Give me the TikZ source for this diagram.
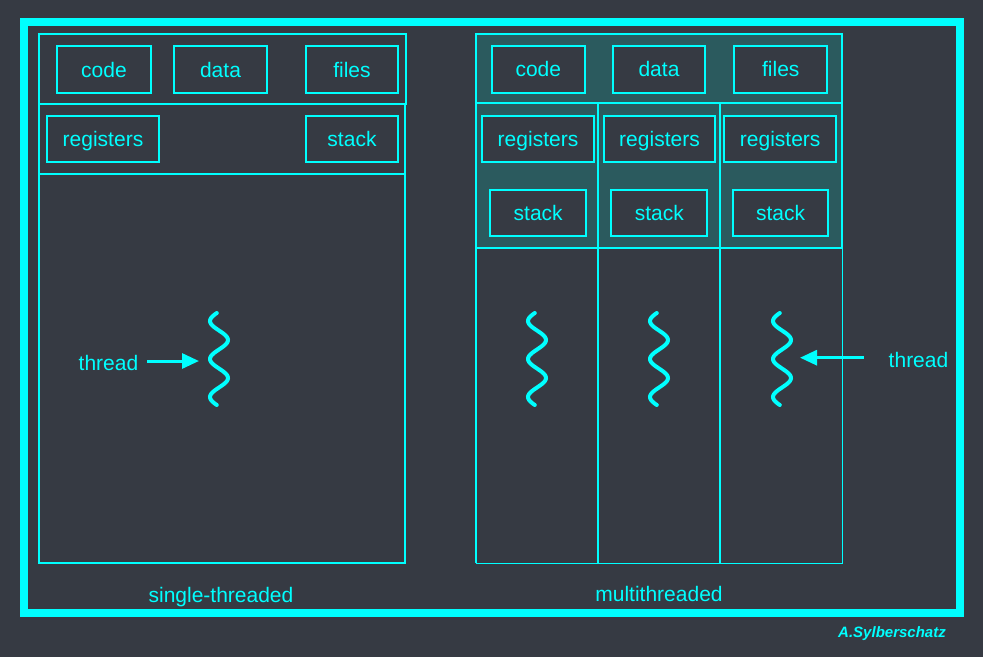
\documentclass[tikz,border=0pt]{standalone}
\usepackage{fontspec}
\setmainfont{Liberation Sans}
\usetikzlibrary{arrows.meta}
\definecolor{bgc}{HTML}{363A43}
\definecolor{cy}{HTML}{00FFFF}
\definecolor{tealfill}{HTML}{2B5A5E}
\begin{document}
\begin{tikzpicture}[x=1pt,y=-1pt,
  box/.style={draw=cy, line width=2pt, fill=bgc, text=cy, font=\fontsize{21}{24}\selectfont,
              inner sep=0pt, text height=15pt, text depth=0pt},
  frame/.style={draw=cy, line width=2pt},
  thin/.style={draw=cy, line width=1pt},
  lbl/.style={text=cy, font=\fontsize{21}{24}\selectfont, inner sep=0pt, text height=15pt, text depth=0pt},
  squig/.style={draw=cy, line width=4pt, line cap=round},
  ptr/.style={draw=cy, line width=3pt, -{Triangle[length=17pt,width=15pt]}}
]
% background and bounding box
\fill[bgc] (0,0) rectangle (983,657);
\useasboundingbox (0,0) rectangle (983,657);
% outer frame
\draw[cy, line width=8pt] (24,22) rectangle (960,613);

% ---------- single-threaded process ----------
\draw[frame] (39,34) rectangle (406,104);
\draw[frame] (39,104) rectangle (405,563);
\draw[frame] (39,174) -- (405,174);
\node[box, minimum width=94pt, minimum height=47pt] (scode) at (104,69.5) {code};
\node[box, minimum width=93pt, minimum height=47pt] (sdata) at (220.5,69.5) {data};
\node[box, minimum width=92pt, minimum height=47pt] (sfiles) at (352,69.5) {files};
\node[box, minimum width=112pt, minimum height=46pt] (sreg) at (103,139) {registers};
\node[box, minimum width=92pt, minimum height=46pt] (sstack) at (352,139) {stack};

% thread squiggle (left)
\draw[squig] plot[domain=313:405, samples=80, smooth] ({219-9*cos(180*(\x-321)/19)}, \x);
\coordinate (stip) at (199,361);
\node[lbl] (sthread) at (108.5,362.5) {thread};
\draw[ptr] ([xshift=9pt,yshift=1.5pt]sthread.east) -- (stip);

\node[lbl] (slabel) at (221,594.5) {single-threaded};

% ---------- multithreaded process ----------
\fill[tealfill] (476,34) rectangle (842,247.5);
\draw[frame] (476,34) rectangle (842,103);
\draw[frame] (476,103) rectangle (842,247.5);
\draw[frame] (598,103) -- (598,563);
\draw[frame] (720,103) -- (720,563);
\draw[frame] (476,247.5) -- (476,563);
\draw[thin] (476,563) -- (842,563) -- (842,247.5);

\node[box, minimum width=93.3pt, minimum height=47pt] (mcode) at (538.3,69.4) {code};
\node[box, minimum width=92.6pt, minimum height=47pt] (mdata) at (659,69.4) {data};
\node[box, minimum width=93pt, minimum height=47pt] (mfiles) at (780.8,69.4) {files};

\node[box, minimum width=112.6pt, minimum height=46pt] (mreg1) at (538,139) {registers};
\node[box, minimum width=111.6pt, minimum height=46pt] (mreg2) at (659.5,139) {registers};
\node[box, minimum width=111.7pt, minimum height=46pt] (mreg3) at (780.2,139) {registers};

\node[box, minimum width=96.3pt, minimum height=46pt] (mstack1) at (538.2,213) {stack};
\node[box, minimum width=96pt, minimum height=46pt] (mstack2) at (659.3,213) {stack};
\node[box, minimum width=95.6pt, minimum height=46pt] (mstack3) at (780.5,213) {stack};

\foreach \cx in {537,659,782}{
  \draw[squig] plot[domain=313:405, samples=80, smooth] ({\cx-9*cos(180*(\x-321)/19)}, \x);
}
\coordinate (mtip) at (800,357.7);
\node[lbl] (mthread) at (918.5,359.5) {thread};
\draw[ptr] ([xshift=-25pt,yshift=1.8pt]mthread.west) -- (mtip);

\node[lbl] (mlabel) at (659,594) {multithreaded};

% signature
\node[text=cy, font=\fontsize{15}{18}\selectfont\bfseries\itshape, inner sep=0pt, anchor=base] (sig) at (892,637) {A.Sylberschatz};
\end{tikzpicture}
\end{document}
